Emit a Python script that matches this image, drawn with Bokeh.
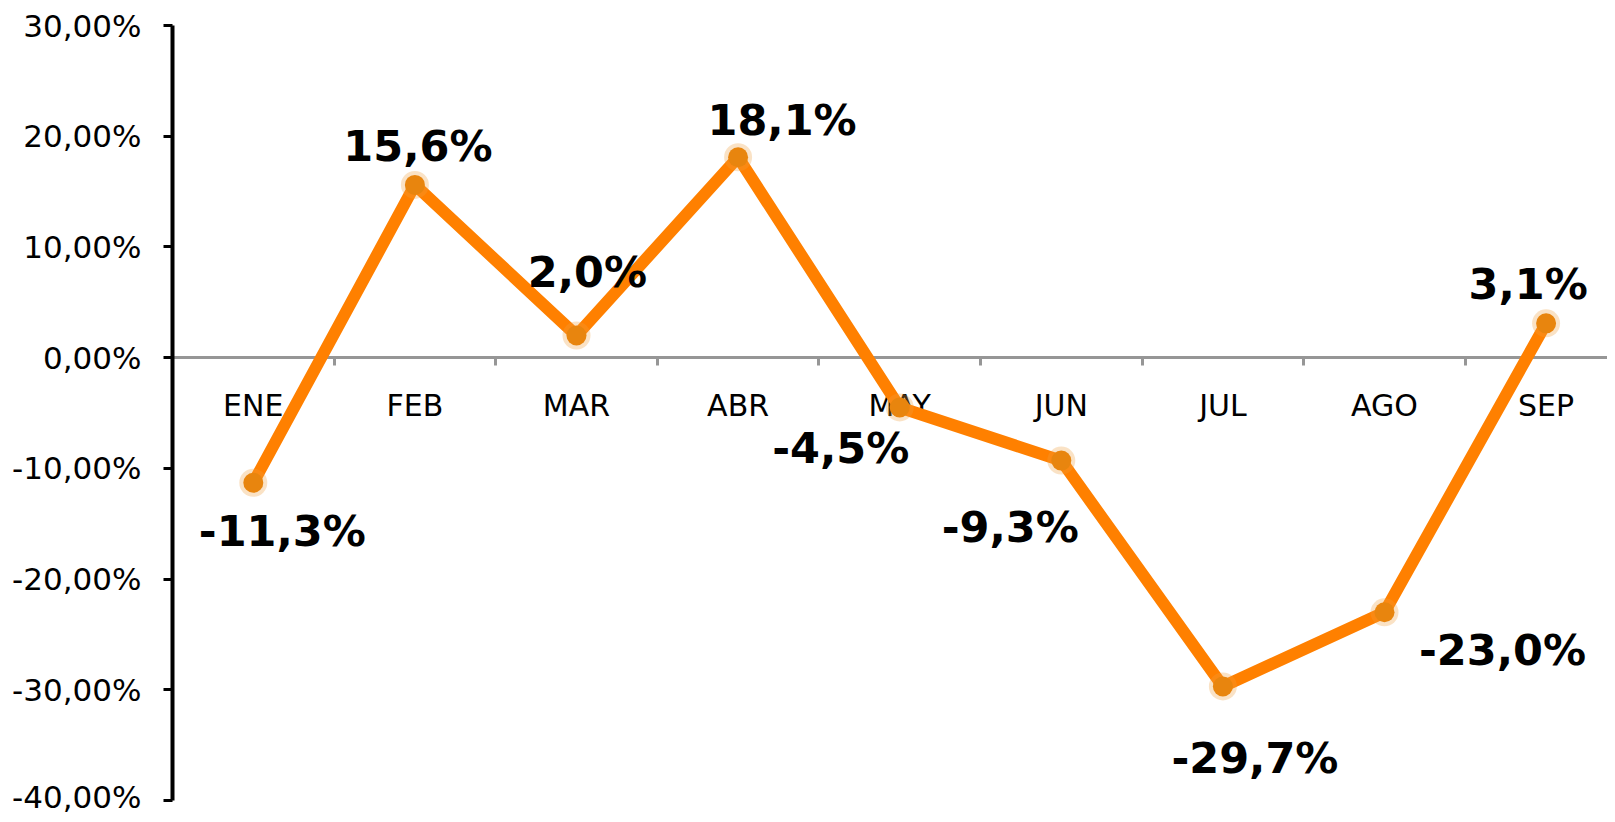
from bokeh.plotting import figure
from bokeh.models import Range1d, LinearAxis, FixedTicker, ColumnDataSource
from bokeh.core.properties import value
from bokeh.embed import file_html
from bokeh.resources import INLINE

months = ["ENE", "FEB", "MAR", "ABR", "MAY", "JUN", "JUL", "AGO", "SEP"]
changes = [-11.3, 15.6, 2.0, 18.1, -4.5, -9.3, -29.7, -23.0, 3.1]
y_ticks = [-40, -30, -20, -10, 0, 10, 20, 30]

# label placement offsets in screen pixels (layout only)
label_dx = [29, 3, 11, 44, -59, -51, 32, 118, -18]
label_dy = [48, -39, -64, -37, 41, 66, 72, 38, -39]

xs = [i + 0.5 for i in range(len(months))]
bounds = list(range(len(months) + 1))
labels = [f"{v:.1f}".replace(".", ",") + "%" for v in changes]

src = ColumnDataSource(dict(x=xs, y=changes, label=labels, dx=label_dx, dy=label_dy))

p = figure(width=1607, height=814, output_backend="svg", toolbar_location=None,
           x_axis_type=None, y_axis_type=None,
           x_range=Range1d(0, 8.88), y_range=Range1d(y_ticks[0], y_ticks[-1]),
           min_border_left=172, min_border_right=0, min_border_top=25, min_border_bottom=14)
p.outline_line_color = None
p.xgrid.visible = False
p.ygrid.visible = False
p.background_fill_color = "white"
p.border_fill_color = "white"

# Y axis
yax = LinearAxis(ticker=FixedTicker(ticks=y_ticks))
yax.major_label_overrides = {t: f"{t:.2f}".replace(".", ",") + "%" for t in y_ticks}
yax.axis_line_color = "black"
yax.axis_line_width = 4
yax.major_tick_line_color = "black"
yax.major_tick_line_width = 3
yax.major_tick_out = 9
yax.major_tick_in = 0
yax.minor_tick_line_color = None
yax.major_label_standoff = 22
yax.major_label_text_font = "DejaVu Sans"
yax.major_label_text_font_size = "31px"
yax.major_label_text_color = "black"
p.add_layout(yax, "left")

# X axis line at zero with category boundary ticks
xax = LinearAxis(ticker=FixedTicker(ticks=bounds), fixed_location=0)
xax.axis_line_color = "#969696"
xax.axis_line_width = 3
xax.major_tick_line_color = "#969696"
xax.major_tick_line_width = 3
xax.major_tick_out = 8
xax.major_tick_in = 0
xax.minor_tick_line_color = None
xax.major_label_text_color = None
xax.major_label_text_font_size = "1px"
p.add_layout(xax, "below")

# category labels
cax = LinearAxis(ticker=FixedTicker(ticks=xs), fixed_location=0)
cax.major_label_overrides = {x: m for x, m in zip(xs, months)}
cax.axis_line_color = None
cax.major_tick_line_color = None
cax.minor_tick_line_color = None
cax.major_tick_out = 0
cax.major_tick_in = 0
cax.major_label_standoff = 30
cax.major_label_text_font = "DejaVu Sans"
cax.major_label_text_font_size = "30px"
cax.major_label_text_color = "black"
p.add_layout(cax, "below")

p.line("x", "y", source=src, line_color="#FF8000", line_width=12, line_join="round", level="annotation")
p.scatter("x", "y", source=src, size=28, marker="circle", fill_color="#F0A040", fill_alpha=0.3,
          line_color=None, level="annotation")
p.scatter("x", "y", source=src, size=20, marker="circle", fill_color="#E8850E",
          line_color=None, level="annotation")
p.text("x", "y", text="label", source=src, x_offset="dx", y_offset="dy",
       text_align="center", text_baseline="middle", text_font=value("DejaVu Sans"),
       text_font_style="bold", text_font_size="43px", text_color="black", level="annotation")

open("out.html", "w").write(file_html(p, INLINE))
